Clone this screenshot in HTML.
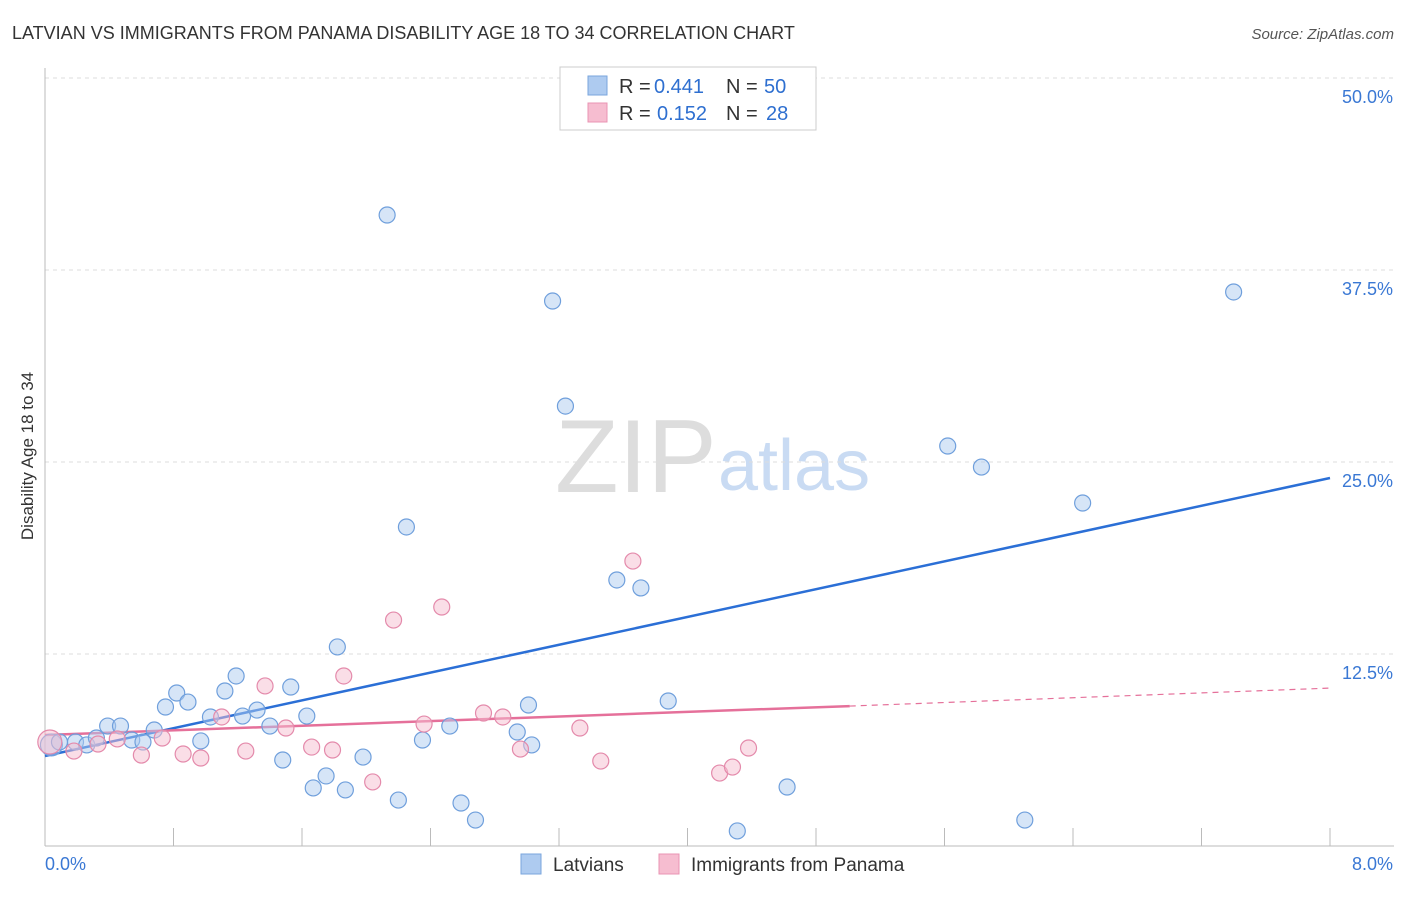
<!DOCTYPE html>
<html><head><meta charset="utf-8"><style>
body{margin:0;background:#fff;font-family:"Liberation Sans",sans-serif;}
svg text{font-family:"Liberation Sans",sans-serif;}
</style></head><body>
<svg id="chart" width="1406" height="892" xmlns="http://www.w3.org/2000/svg">
<text x="12" y="39" font-size="18" fill="#333">LATVIAN VS IMMIGRANTS FROM PANAMA DISABILITY AGE 18 TO 34 CORRELATION CHART</text>
<text x="1394" y="39" font-size="15" fill="#555" text-anchor="end" font-style="italic">Source: ZipAtlas.com</text>
<text x="555" y="492" font-size="104" fill="#ddd" font-family="Liberation Serif">ZIP</text>
<text x="718" y="490" font-size="72" fill="#c9dbf3">atlas</text>
<text transform="translate(33,456) rotate(-90)" font-size="17" fill="#333" text-anchor="middle">Disability Age 18 to 34</text>
<g id="grid"></g><g id="axes"></g><g id="lines"></g><g id="pts"></g>
<g>
<rect x="560" y="67" width="256" height="63" fill="#fff" stroke="#ccc"/>
<rect x="588" y="76" width="19" height="19" fill="#aecbf0" stroke="#7aa6dd"/>
<rect x="588" y="103" width="19" height="19" fill="#f6bdd0" stroke="#e994b3"/>
<text x="619" y="93" font-size="20" fill="#333">R =</text>
<text x="654" y="93" font-size="20" fill="#2e6fd0">0.441</text>
<text x="726" y="93" font-size="20" fill="#333">N =</text>
<text x="764" y="93" font-size="20" fill="#2e6fd0">50</text>
<text x="619" y="120" font-size="20" fill="#333">R =</text>
<text x="657" y="120" font-size="20" fill="#2e6fd0">0.152</text>
<text x="726" y="120" font-size="20" fill="#333">N =</text>
<text x="766" y="120" font-size="20" fill="#2e6fd0">28</text>
</g>
<g>
<rect x="521" y="854" width="20" height="20" fill="#aecbf0" stroke="#7aa6dd"/>
<text x="553" y="871" font-size="19" fill="#333">Latvians</text>
<rect x="659" y="854" width="20" height="20" fill="#f6bdd0" stroke="#e994b3"/>
<text x="691" y="871" font-size="19" fill="#333">Immigrants from Panama</text>
</g>
</svg>
<script>
const yTicks=[12.5,25,37.5,50];
const yTickLabels=["12.5%","25.0%","37.5%","50.0%"];
const xTicks=[0,0.8,1.6,2.4,3.2,4.0,4.8,5.6,6.4,7.2,8.0];
const latX=[0.04,0.09,0.19,0.26,0.32,0.39,0.47,0.54,0.61,0.68,0.75,0.82,0.89,0.97,1.03,1.12,1.19,1.23,1.32,1.40,1.48,1.53,1.63,1.67,1.75,1.82,1.87,1.98,2.13,2.20,2.25,2.35,2.52,2.59,2.68,2.94,3.01,3.03,3.16,3.24,3.56,3.71,3.88,4.31,4.62,5.62,5.83,6.10,6.46,7.40];
const latY=[6.58,6.77,6.77,6.58,7.03,7.81,7.81,6.90,6.77,7.55,9.05,9.96,9.37,6.84,8.40,10.09,11.07,8.46,8.85,7.81,5.60,10.35,8.46,3.78,4.56,12.96,3.65,5.79,41.08,2.99,20.77,6.90,7.81,2.80,1.69,7.42,9.18,6.58,35.48,28.64,17.32,16.80,9.44,0.98,3.84,26.04,24.67,1.69,22.33,36.07];
const panX=[0.03,0.18,0.33,0.45,0.60,0.73,0.86,0.97,1.10,1.25,1.37,1.50,1.66,1.79,1.86,2.04,2.17,2.36,2.47,2.73,2.85,2.96,3.33,3.46,3.66,4.20,4.28,4.38];
const panY=[6.77,6.18,6.64,6.97,5.92,7.03,5.99,5.73,8.40,6.18,10.42,7.68,6.44,6.25,11.07,4.17,14.71,7.94,15.56,8.66,8.40,6.31,7.68,5.53,18.55,4.75,5.14,6.38];
const latTrend=[5.86,23.96];
const panTrend=[7.23,9.11,10.28];
const X=v=>45+v/8*1285, Y=v=>846-v/50*768;
const NS="http://www.w3.org/2000/svg";
function mk(p,t,a){const e=document.createElementNS(NS,t);for(const k in a)e.setAttribute(k,a[k]);p.appendChild(e);return e;}
const g=document.getElementById('grid'),ax=document.getElementById('axes'),ln=document.getElementById('lines'),pt=document.getElementById('pts');
yTicks.forEach((t,i)=>{const l=mk(g,'line',{x1:45,x2:1394,y1:Y(t),y2:Y(t),stroke:'#ddd','stroke-dasharray':'4,4'});


const tx=mk(g,'text',{x:1393,y:Y(t)+25,'font-size':18,fill:'#3a78d4','text-anchor':'end'});tx.textContent=yTickLabels[i];

});
const a1=mk(ax,'line',{x1:45,x2:45,y1:68,y2:846,stroke:'#bbb'});


const a2=mk(ax,'line',{x1:45,x2:1394,y1:846,y2:846,stroke:'#bbb'});


xTicks.forEach(t=>{const l=mk(ax,'line',{x1:X(t),x2:X(t),y1:828,y2:846,stroke:'#bbb'});

});
[[0,'0.0%','start',45],[8,'8.0%','end',1393]].forEach(d=>{const tx=mk(ax,'text',{x:d[3],y:870,'font-size':18,fill:'#3a78d4','text-anchor':d[2]});tx.textContent=d[1];

});
function dot(x,y,f,s,r){const c=mk(pt,'circle',{cx:X(x),cy:Y(y),r:r,fill:f,'fill-opacity':0.5,stroke:s,'stroke-width':1.2});return c;}
latX.forEach((x,i)=>{const c=dot(x,latY[i],'#aecbf0','#6f9fdc',i==0?11:8);

});
panX.forEach((x,i)=>{const c=dot(x,panY[i],'#f6bdd0','#e48aab',i==0?12:8);

});
const bl=mk(ln,'line',{x1:X(0),y1:Y(latTrend[0]),x2:X(8),y2:Y(latTrend[1]),stroke:'#2b6fd6','stroke-width':2.5});


const pl=mk(ln,'line',{x1:X(0),y1:Y(panTrend[0]),x2:X(5.01),y2:Y(panTrend[1]),stroke:'#e5709a','stroke-width':2.5});


const pd=mk(ln,'line',{x1:X(5.01),y1:Y(panTrend[1]),x2:X(8),y2:Y(panTrend[2]),stroke:'#e5709a','stroke-width':1.2,'stroke-dasharray':'6,5'});


</script>
</body></html>
